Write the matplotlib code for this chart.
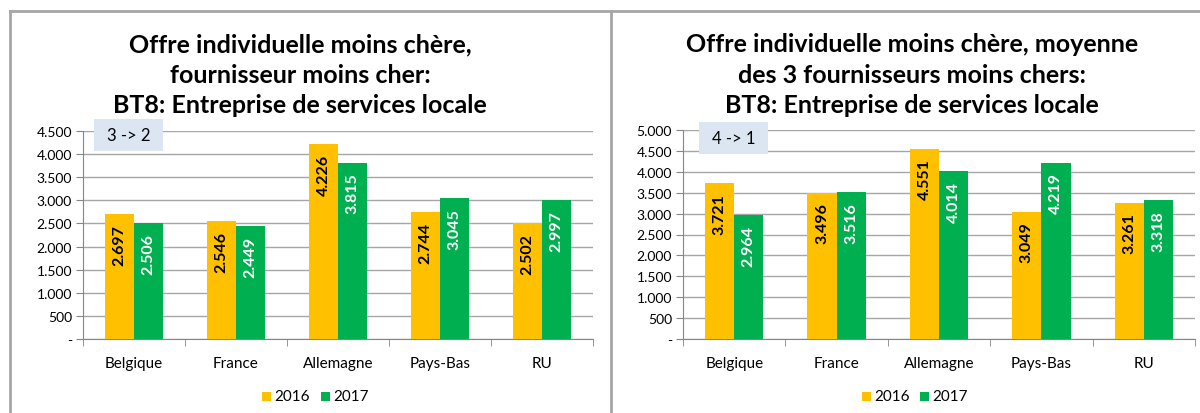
import matplotlib.pyplot as plt
from matplotlib.lines import Line2D
from matplotlib.patches import Rectangle

plt.rcParams['font.family'] = ['Lato', 'DejaVu Sans']

pays = ['Belgique', 'France', 'Allemagne', 'Pays-Bas', 'RU']
annees = ['2016', '2017']
couleurs = ['#FFC000', '#00B050']

gauche_2016 = [2697, 2546, 4226, 2744, 2502]
gauche_2017 = [2506, 2449, 3815, 3045, 2997]
droite_2016 = [3721, 3496, 4551, 3049, 3261]
droite_2017 = [2964, 3516, 4014, 4219, 3318]

titre_gauche = "Offre individuelle moins chère,\nfournisseur moins cher:\nBT8: Entreprise de services locale"
titre_droite = "Offre individuelle moins chère, moyenne\ndes 3 fournisseurs moins chers:\nBT8: Entreprise de services locale"

W, H = 1200, 414
fig = plt.figure(figsize=(W / 100, H / 100), dpi=100)


def fmt(v):
    if v == 0:
        return '-'
    return f'{v:,.0f}'.replace(',', '.')


def panneau(x0, x1, top, ymax, s2016, s2017, titre, boite, cx_titre, leg_x):
    ax = fig.add_axes([x0 / W, 1 - 340 / H, (x1 - x0) / W, (340 - top) / H])
    n = len(pays)
    largeur = 0.285
    for i in range(n):
        for k, (serie, col, tc) in enumerate([(s2016, couleurs[0], 'black'), (s2017, couleurs[1], 'white')]):
            x = i + (k - 0.5) * largeur
            ax.bar(x, serie[i], width=largeur, color=col, zorder=3)
            ax.annotate(fmt(serie[i]), (x, serie[i]), xytext=(0, -7), textcoords='offset points',
                        rotation=90, ha='center', va='top', fontsize=11.5, fontweight='bold',
                        color=tc, zorder=4)
    ax.set_xlim(-0.5, n - 0.5)
    ax.set_ylim(0, ymax)
    ticks = list(range(0, ymax + 1, 500))
    ax.set_yticks(ticks)
    ax.set_yticklabels([fmt(t) for t in ticks], fontsize=10)
    ax.yaxis.grid(True, color='#A6A6A6', linewidth=1, zorder=0)
    ax.set_xticks(range(n))
    ax.set_xticklabels(pays, fontsize=11)
    ax.set_xticks([i - 0.5 for i in range(n + 1)], minor=True)
    ax.tick_params(axis='x', which='major', length=0, pad=12)
    ax.tick_params(axis='x', which='minor', length=5, color='#868686')
    ax.tick_params(axis='y', length=5, color='#868686', pad=3)
    for s in ['top', 'right']:
        ax.spines[s].set_visible(False)
    for s in ['left', 'bottom']:
        ax.spines[s].set_color('#868686')
    # titre
    fig.text(cx_titre / W, 1 - 33 / H, titre, ha='center', va='top', fontsize=18,
             fontweight='bold', linespacing=1.4)
    # boite
    bx0, bx1, by0, by1, txt = boite
    fig.patches.append(Rectangle((bx0 / W, 1 - by1 / H), (bx1 - bx0) / W, (by1 - by0) / H,
                                 transform=fig.transFigure, facecolor='#DCE6F2', edgecolor='none', zorder=5))
    fig.text((bx0 + bx1) / 2 / W, 1 - (by0 + by1) / 2 / H, txt, ha='center', va='center',
             fontsize=12, zorder=6)
    # legende
    for lx, col, lab in zip(leg_x, couleurs, annees):
        fig.patches.append(Rectangle((lx / W, 1 - 402 / H), 9 / W, 9 / H, transform=fig.transFigure,
                                     facecolor=col, edgecolor='none'))
        fig.text((lx + 12) / W, 1 - 397 / H, lab, ha='left', va='center', fontsize=11)


panneau(83, 593, 132, 4500, gauche_2016, gauche_2017, titre_gauche,
        (94, 163, 120, 152, '3 -> 2'), 300, [262, 321])
panneau(683, 1195, 131, 5000, droite_2016, droite_2017, titre_droite,
        (699, 768, 123, 155, '4 -> 1'), 912, [862, 920])

# bordures des panneaux
bord = '#A6A6A6'
fig.add_artist(Line2D([10 / W, 1], [1 - 12 / H] * 2, color=bord, linewidth=2))
fig.add_artist(Line2D([10 / W] * 2, [0, 1 - 12 / H], color=bord, linewidth=2))
fig.add_artist(Line2D([611 / W] * 2, [0, 1 - 12 / H], color=bord, linewidth=2))

fig.savefig('out.png', dpi=100)
